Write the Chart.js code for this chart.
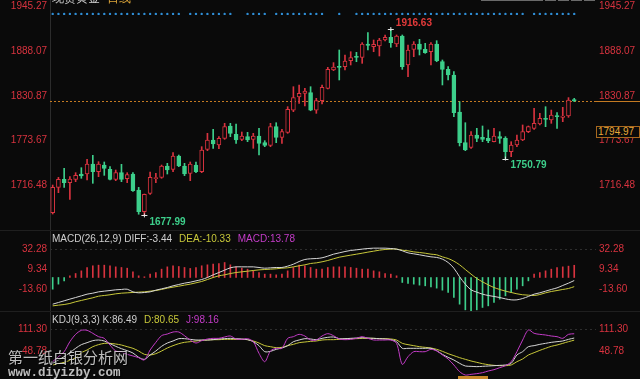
<!DOCTYPE html>
<html>
<head>
<meta charset="utf-8">
<script src="https://cdn.jsdelivr.net/npm/chart.js@4.4.1/dist/chart.umd.min.js"></script>
<style>
html, body { margin: 0; padding: 0; background: #0a0a0a; }
#wrap { position: relative; width: 640px; height: 379px; overflow: hidden; background: #0a0a0a; font-family: Arial, "Liberation Sans", sans-serif; }
.pane { position: absolute; left: 0; width: 640px; }
.pane canvas { display: block; }
.sep { position: absolute; left: 0; width: 640px; height: 1px; background: #1f1f1f; }
.head { position: absolute; left: 52px; font-size: 10px; line-height: 12px; white-space: nowrap; }
.head span { margin-right: 7px; }
.wm1 { position: absolute; left: 8px; top: 346px; font-family: "Noto Sans CJK SC", sans-serif; font-size: 15px; color: rgba(235,235,235,0.8); text-shadow: 1px 1px 1px #000; }
.wm2 { position: absolute; left: 8px; top: 366px; font-family: "Liberation Mono", monospace; font-weight: bold; font-size: 12.5px; color: rgba(235,235,235,0.8); text-shadow: 1px 1px 1px #000; }
.btn { position: absolute; top: -10px; height: 11px; border: 1px solid #6a6a6a; box-sizing: border-box; }
</style>
</head>
<body>
<div id="wrap">
  <div class="pane" style="top:0;height:229px"><canvas id="mainChart" width="640" height="229"></canvas></div>
  <div class="pane" style="top:229px;height:82px"><canvas id="macdChart" width="640" height="82"></canvas></div>
  <div class="pane" style="top:311px;height:68px"><canvas id="kdjChart" width="640" height="68"></canvas></div>
  <div class="sep" style="top:230px"></div>
  <div class="sep" style="top:311px"></div>

  <div class="head" style="top:-8px;font-size:12px"><span style="color:#cfcfcf">现货黄金</span><span style="color:#e0a83a">日线</span></div>
  <div class="btn" style="left:481px;width:62px;background:#2a2a2a"></div>
  <div class="btn" style="left:545px;width:11px"></div>
  <div class="btn" style="left:558px;width:11px"></div>
  <div class="btn" style="left:571px;width:11px"></div>
  <div class="btn" style="left:584px;width:11px"></div>

  <div style="position:absolute;left:596px;top:126px;width:44px;height:12px;box-sizing:border-box;border:1px solid #a8681e;background:#0a0a0a;color:#e8a838;font-size:10px;line-height:10px;padding-left:1px">1794.97</div>

  <div class="head" style="top:233px"><span style="color:#cfcfcf">MACD(26,12,9) DIFF:-3.44</span><span style="color:#c8c83a">DEA:-10.33</span><span style="color:#c43cc8">MACD:13.78</span></div>
  <div class="head" style="top:314px"><span style="color:#cfcfcf">KDJ(9,3,3) K:86.49</span><span style="color:#c8c83a">D:80.65</span><span style="color:#c43cc8">J:98.16</span></div>

  <div class="wm1">第一纸白银分析网</div>
  <div class="wm2">www.diyizby.com</div>
  <div style="position:absolute;left:458px;top:376px;width:30px;height:4px;background:#c8882a"></div>
</div>
<script>
// daily candles
const open = [1681.5,1713.9,1724.2,1719.9,1724.2,1731.0,1731.0,1743.8,1734.0,1742.5,
  1737.0,1724.2,1732.7,1725.0,1731.0,1710.5,1682.8,1706.3,1725.0,1726.7,
  1741.3,1737.0,1754.1,1741.3,1731.9,1742.5,1734.0,1762.6,1774.5,1768.1,
  1776.7,1792.5,1781.8,1775.4,1778.8,1775.4,1779.7,1771.1,1767.7,1791.6,
  1778.0,1784.1,1812.9,1829.6,1834.3,1835.2,1812.9,1824.9,1840.7,1864.2,
  1868.9,1868.4,1876.1,1881.2,1880.4,1897.5,1894.0,1894.9,1902.6,1906.0,
  1897.5,1907.7,1870.6,1890.6,1897.5,1890.6,1887.6,1897.5,1874.8,1865.0,
  1857.8,1810.4,1771.1,1765.2,1780.9,1778.0,1776.7,1772.4,1778.8,1776.7,
  1759.6,1768.1,1774.5,1785.2,1789.5,1795.0,1802.3,1800.2,1805.7,1803.6,
  1805.3,1826.2];
const high = [1716.9,1726.7,1738.3,1727.6,1732.7,1739.1,1749.8,1754.9,1746.8,1746.4,
  1740.4,1736.1,1743.4,1732.7,1732.7,1713.9,1705.4,1733.6,1731.9,1742.5,
  1744.7,1758.3,1755.3,1744.7,1746.4,1746.4,1766.0,1783.1,1788.2,1778.8,
  1795.9,1795.9,1795.0,1784.8,1784.4,1783.1,1789.5,1773.7,1795.9,1796.7,
  1788.2,1817.2,1842.8,1845.0,1840.7,1842.8,1827.9,1845.0,1867.6,1873.6,
  1889.8,1883.4,1887.6,1886.8,1899.2,1912.0,1902.6,1904.7,1909.0,1916.63,
  1909.0,1909.0,1896.2,1900.5,1903.4,1898.3,1899.2,1901.7,1877.0,1868.4,
  1862.0,1823.6,1796.7,1785.2,1789.5,1792.5,1787.4,1789.5,1785.2,1778.8,
  1772.4,1780.9,1793.8,1792.5,1815.1,1808.7,1817.2,1812.9,1809.5,1816.4,
  1828.8,1827.9];
const low = [1679.8,1707.1,1713.9,1698.6,1721.2,1725.5,1723.3,1719.1,1727.6,1729.3,
  1723.3,1722.5,1721.2,1719.9,1708.8,1679.5,1677.99,1705.0,1719.9,1725.5,
  1731.0,1734.0,1740.4,1728.9,1722.5,1732.7,1732.7,1760.9,1763.9,1763.4,
  1775.4,1778.8,1770.3,1773.7,1772.4,1763.9,1755.3,1766.0,1766.0,1771.1,
  1770.3,1783.1,1810.8,1821.5,1818.1,1812.0,1808.7,1820.6,1839.9,1863.3,
  1851.4,1864.2,1870.6,1874.8,1872.7,1889.8,1887.6,1882.1,1901.3,1893.2,
  1894.0,1865.0,1855.6,1881.2,1883.4,1885.5,1870.6,1874.8,1845.0,1851.4,
  1804.4,1766.9,1760.9,1763.9,1772.4,1772.4,1771.1,1772.0,1770.3,1750.79,
  1753.2,1766.0,1773.7,1783.9,1788.2,1793.8,1791.6,1795.9,1789.5,1798.0,
  1803.6,1823.6];
const close = [1714.0,1724.2,1719.9,1724.6,1729.3,1728.5,1743.8,1734.0,1743.8,1738.3,
  1724.2,1732.7,1724.2,1730.2,1709.7,1682.8,1705.0,1726.7,1726.3,1741.3,
  1736.1,1754.1,1741.3,1731.0,1743.8,1734.0,1761.7,1774.5,1769.4,1776.7,
  1791.6,1783.1,1774.5,1779.7,1774.5,1779.7,1770.3,1767.7,1791.6,1778.0,
  1785.2,1813.8,1828.8,1834.3,1837.3,1812.9,1824.9,1842.0,1865.0,1868.0,
  1867.6,1875.7,1880.0,1880.4,1897.5,1895.8,1897.0,1902.6,1906.0,1899.2,
  1907.7,1868.4,1889.8,1897.5,1890.6,1886.4,1897.5,1876.1,1865.0,1857.8,
  1809.5,1771.1,1761.7,1780.9,1776.7,1775.4,1773.7,1779.7,1776.7,1759.6,
  1768.1,1774.5,1785.2,1791.6,1795.9,1802.3,1801.0,1806.6,1804.4,1805.3,
  1825.8,1824.9];
// blue signal dots along the top (1 = dot shown)
const signal = [1,1,1,1,1,1,1,1,1,1,1,1,1,1,1,1,1,1,1,1,1,1,1,0,1,1,1,1,1,1,
  1,1,0,0,1,1,1,1,0,1,1,1,1,1,1,1,1,1,0,0,1,0,0,1,1,1,1,1,1,1,
  1,1,1,1,1,1,1,1,1,1,1,1,1,1,1,1,1,1,1,1,1,1,1,0,1,1,1,1,1,1,
  1,1];
const signalLevel = 1936;
const priceTicks = [1945.27, 1888.07, 1830.87, 1773.67, 1716.48];

const diff = [-30.1,-28.2,-26.3,-24.4,-22.6,-20.7,-18.8,-17.7,-16.2,-15.4,
  -14.7,-13.9,-13.5,-13.2,-16.2,-17.3,-16.9,-16.2,-14.3,-12.8,
  -11.3,-9.4,-7.9,-6.4,-5.3,-3.8,-2.3,0,3.0,5.6,
  8.3,10.9,12.0,12.0,12.0,12.0,11.3,10.5,10.9,11.3,
  11.3,12.8,15.0,18.0,20.3,21.1,21.4,22.2,24.1,26.3,
  27.8,29.3,30.5,31.2,32.0,32.7,33.1,33.1,33.1,32.7,
  32.0,30.1,27.8,26.7,25.6,24.4,23.3,22.6,20.7,16.9,
  10.5,0.8,-7.5,-13.9,-16.5,-18.8,-20.3,-21.4,-22.6,-24.1,
  -25.2,-25.2,-23.7,-21.4,-18.8,-17.3,-15.4,-13.5,-11.7,-9.0,
  -6.4,-3.44];
const dea = [-32.0,-31.2,-30.5,-29.3,-27.4,-25.9,-24.4,-22.9,-21.1,-20.3,
  -19.5,-18.4,-17.7,-17.3,-16.9,-16.5,-16.2,-15.4,-14.7,-13.5,
  -12.0,-10.9,-9.8,-8.6,-7.5,-6.0,-4.5,-2.3,0,1.9,
  3.0,4.5,5.6,6.4,7.1,7.9,8.6,9.0,9.4,9.8,
  10.5,10.9,12.0,13.2,14.3,15.8,16.5,17.7,19.2,21.1,
  22.9,24.1,25.2,26.3,27.4,28.6,29.7,30.8,31.6,32.0,
  32.0,30.8,30.1,28.9,28.2,27.4,26.3,25.6,23.3,21.4,
  18.4,14.3,9.0,3.8,-1.1,-4.9,-8.3,-11.3,-13.5,-15.4,
  -16.9,-18.4,-19.5,-19.9,-20.3,-19.2,-17.3,-15.8,-14.7,-13.5,
  -12.4,-10.33];
const macdHist = [-13.2,-7.5,-3.8,1.9,4.5,7.5,11.3,13.2,13.9,13.9,
  13.2,12.0,11.3,10.5,6.4,1.9,0.8,3.8,5.6,9.4,
  12.0,13.2,12.4,11.3,10.2,11.3,13.2,14.3,15.0,15.8,
  16.9,14.3,12.0,10.5,9.4,7.5,5.6,3.8,3.8,3.0,
  3.8,7.5,11.3,13.9,13.2,11.3,9.4,9.4,11.3,12.0,
  12.0,12.0,11.3,10.5,9.4,9.4,7.5,6.4,4.5,3.8,
  1.9,-5.6,-6.8,-7.5,-8.6,-9.4,-10.5,-12.0,-14.3,-16.9,
  -22.6,-30.1,-36.5,-38.0,-36.5,-33.8,-32.0,-28.2,-24.4,-20.7,
  -16.9,-13.2,-9.4,-3.8,3.8,5.6,7.5,9.4,11.3,12.0,
  12.8,13.78];
const macdTicks = [32.28, 9.34, -13.60];

const kLine = [16.8,25.9,35.1,46.1,58.1,68.2,73.7,79.2,81.0,78.3,
  70.9,63.6,57.1,51.6,45.2,33.3,27.8,39.7,50.7,63.6,
  72.7,78.3,84.7,84.7,82.8,81.0,81.0,81.0,81.9,83.8,
  84.7,85.6,84.7,83.8,81.9,76.4,65.4,48.9,49.8,55.3,
  59.0,65.4,76.4,81.0,84.7,83.8,81.9,85.6,88.4,89.3,
  84.7,84.7,85.6,86.5,87.4,86.5,85.6,84.7,83.8,81.9,
  76.4,58.1,58.1,58.1,58.1,58.1,58.1,51.6,41.5,33.3,
  25.9,16.8,9.4,8.5,7.6,8.5,9.4,10.3,11.2,12.2,
  16.8,39.7,48.9,62.6,65.4,69.1,71.8,74.6,76.4,78.3,
  82.8,86.49];
const dLine = [12.2,15.8,19.5,25.0,32.4,46.1,53.5,62.6,68.2,71.8,
  71.8,70.0,67.2,62.6,58.1,50.7,41.5,39.7,43.4,50.7,
  59.0,65.4,70.9,74.6,76.4,78.3,80.1,81.0,81.9,81.9,
  82.8,82.8,82.8,82.8,81.9,78.3,72.7,65.4,62.6,59.9,
  60.8,65.4,69.1,73.7,75.5,77.3,78.3,81.0,81.9,81.9,
  82.8,83.8,84.7,84.7,85.6,85.6,85.6,84.7,84.7,83.8,
  81.0,71.8,68.2,65.4,62.6,60.8,59.0,55.3,49.8,43.4,
  37.9,32.4,27.8,23.2,19.5,15.8,13.1,11.2,10.3,10.3,
  12.2,21.3,28.7,39.7,46.1,52.5,58.1,63.6,67.2,71.8,
  76.4,80.65];
const jLine = [21.3,35.1,48.9,76.4,96.6,107.6,107.6,99.4,90.2,85.6,
  67.2,50.7,48.0,41.5,37.0,32.4,25.9,53.5,74.6,92.9,
  97.5,103.0,103.0,92.9,81.0,72.7,79.2,83.8,85.6,85.6,
  89.3,92.0,83.8,82.8,84.7,76.4,44.3,21.3,50.7,58.1,
  58.1,85.6,90.2,96.6,92.0,81.0,81.0,92.0,98.5,92.9,
  83.8,81.9,82.8,85.6,90.2,85.6,81.0,81.0,81.0,81.0,
  71.8,14.0,35.1,48.9,48.9,48.9,55.3,50.7,39.7,28.7,
  12.2,-6.2,-15.4,-13.5,-11.7,-9.0,-4.4,-0.7,4.8,10.3,
  21.3,48.9,81.0,108.6,99.4,96.6,94.8,92.0,90.2,85.6,
  96.6,98.16];
const kdjTicks = [111.30, 48.78];

// marked extremes: which day, high or low
const marks = [{day: 60, kind: 'high'}, {day: 17, kind: 'low'}, {day: 80, kind: 'low'}];

const red = '#d8333f';
const green = '#3dcf8b';
const bg = '#0a0a0a';
const tickFont = {size: 10, family: 'Arial, "Liberation Sans", sans-serif'};
const days = open.map((_, i) => i + 1);
const up = open.map((o, i) => close[i] >= o);

function xAxis() {
    return {type: 'linear', min: 0.53, max: 95.8, offset: false, display: false};
}

function yAxes(min, max, ticks) {
    function one(pos, width) {
        return {
            position: pos, min: min, max: max,
            afterBuildTicks: s => { s.ticks = ticks.map(v => ({value: v})); },
            afterFit: s => { s.width = width; s.paddingTop = 0; s.paddingBottom = 0; },
            ticks: {color: red, font: tickFont, padding: 3, autoSkip: false, callback: v => Number(v).toFixed(2)},
            grid: {display: false, drawTicks: false},
            border: {display: pos == 'left', color: '#2c2c2c'}
        };
    }
    return {y: one('left', 50), y2: one('right', 44)};
}

// faint dashed line at one tick value
const refLine = {
    id: 'refLine',
    beforeDatasetsDraw(chart, args, opts) {
        if (opts.value == null) return;
        const {ctx, chartArea, scales} = chart;
        const y = Math.round(scales.y.getPixelForValue(opts.value)) + 0.5;
        ctx.save();
        ctx.strokeStyle = '#2e2e2e';
        ctx.setLineDash([2, 3]);
        ctx.beginPath();
        ctx.moveTo(chartArea.left, y);
        ctx.lineTo(chartArea.right, y);
        ctx.stroke();
        ctx.restore();
    }
};

// last price line + extreme labels on the candle chart
const priceDeco = {
    id: 'priceDeco',
    beforeDatasetsDraw(chart) {
        const {ctx, chartArea, scales} = chart;
        const y = Math.round(scales.y.getPixelForValue(close[close.length - 1])) + 0.5;
        ctx.save();
        ctx.strokeStyle = '#c47a22';
        ctx.lineWidth = 1;
        ctx.setLineDash([2, 2]);
        ctx.beginPath();
        ctx.moveTo(chartArea.left, y);
        ctx.lineTo(chartArea.right, y);
        ctx.stroke();
        ctx.setLineDash([]);
        ctx.beginPath();
        ctx.moveTo(chartArea.right, y);
        ctx.lineTo(chart.width, y);
        ctx.stroke();
        ctx.restore();
    },
    afterDatasetsDraw(chart) {
        const {ctx, scales} = chart;
        ctx.save();
        ctx.font = 'bold 10px Arial, "Liberation Sans", sans-serif';
        ctx.textBaseline = 'middle';
        for (const m of marks) {
            const i = m.day - 1;
            const v = m.kind == 'high' ? high[i] : low[i];
            const x = scales.x.getPixelForValue(m.day);
            const y = scales.y.getPixelForValue(v);
            ctx.strokeStyle = '#e6e6e6';
            ctx.lineWidth = 1;
            ctx.beginPath();
            ctx.moveTo(x - 3, Math.round(y) + 0.5);
            ctx.lineTo(x + 3, Math.round(y) + 0.5);
            ctx.moveTo(x, y - 2);
            ctx.lineTo(x, y + 2);
            ctx.stroke();
            ctx.fillStyle = m.kind == 'high' ? '#e43a3a' : green;
            ctx.fillText(v.toFixed(2), x + 5, m.kind == 'high' ? y - 6 : y + 7);
        }
        ctx.restore();
    }
};

const baseOpts = {
    responsive: false,
    animation: false,
    devicePixelRatio: 1,
    layout: {padding: 0, autoPadding: false},
    plugins: {legend: {display: false}, tooltip: {enabled: false}}
};

new Chart(document.getElementById('mainChart'), {
    type: 'bar',
    data: {
        datasets: [
            {
                type: 'bar',
                data: days.map((d, i) => ({x: d, y: [open[i], close[i]]})),
                backgroundColor: up.map(u => u ? bg : green),
                borderColor: up.map(u => u ? red : green),
                borderWidth: 1,
                borderSkipped: false,
                barThickness: 4,
                minBarLength: 1,
                grouped: false,
                order: 1
            },
            {
                type: 'bar',
                data: days.map((d, i) => ({x: d, y: [low[i], high[i]]})),
                backgroundColor: up.map(u => u ? red : green),
                borderWidth: 0,
                barThickness: 1,
                grouped: false,
                order: 2
            },
            {
                type: 'line',
                data: days.filter((d, i) => signal[i]).map(d => ({x: d, y: signalLevel})),
                showLine: false,
                pointRadius: 1.2,
                pointHoverRadius: 0,
                pointBackgroundColor: '#2f8ed6',
                pointBorderWidth: 0,
                order: 0
            }
        ]
    },
    options: Object.assign({}, baseOpts, {
        scales: Object.assign({x: xAxis()}, yAxes(1660.6, 1953.8, priceTicks))
    }),
    plugins: [priceDeco]
});

new Chart(document.getElementById('macdChart'), {
    type: 'bar',
    data: {
        datasets: [
            {
                type: 'bar',
                data: days.map((d, i) => ({x: d, y: macdHist[i]})),
                backgroundColor: macdHist.map(v => v >= 0 ? red : green),
                barThickness: 1,
                grouped: false,
                order: 2
            },
            {
                type: 'line',
                data: days.map((d, i) => ({x: d, y: diff[i]})),
                borderColor: '#d6d6d6', borderWidth: 1, pointRadius: 0, tension: 0.35, order: 0
            },
            {
                type: 'line',
                data: days.map((d, i) => ({x: d, y: dea[i]})),
                borderColor: '#c8c83a', borderWidth: 1, pointRadius: 0, tension: 0.35, order: 1
            }
        ]
    },
    options: Object.assign({}, baseOpts, {
        plugins: Object.assign({}, baseOpts.plugins, {refLine: {value: macdTicks[0]}}),
        scales: Object.assign({x: xAxis()}, yAxes(-37.8, 54.7, macdTicks))
    }),
    plugins: [refLine]
});

new Chart(document.getElementById('kdjChart'), {
    type: 'line',
    data: {
        datasets: [
            {data: days.map((d, i) => ({x: d, y: kLine[i]})), borderColor: '#d6d6d6', order: 1},
            {data: days.map((d, i) => ({x: d, y: dLine[i]})), borderColor: '#c8c83a', order: 2},
            {data: days.map((d, i) => ({x: d, y: jLine[i]})), borderColor: '#c43cc8', order: 0}
        ].map(ds => Object.assign(ds, {borderWidth: 1, pointRadius: 0, tension: 0.3}))
    },
    options: Object.assign({}, baseOpts, {
        plugins: Object.assign({}, baseOpts.plugins, {refLine: {value: kdjTicks[0]}}),
        scales: Object.assign({x: xAxis()}, yAxes(-26.4, 160.9, kdjTicks))
    }),
    plugins: [refLine]
});
</script>
</body>
</html>
